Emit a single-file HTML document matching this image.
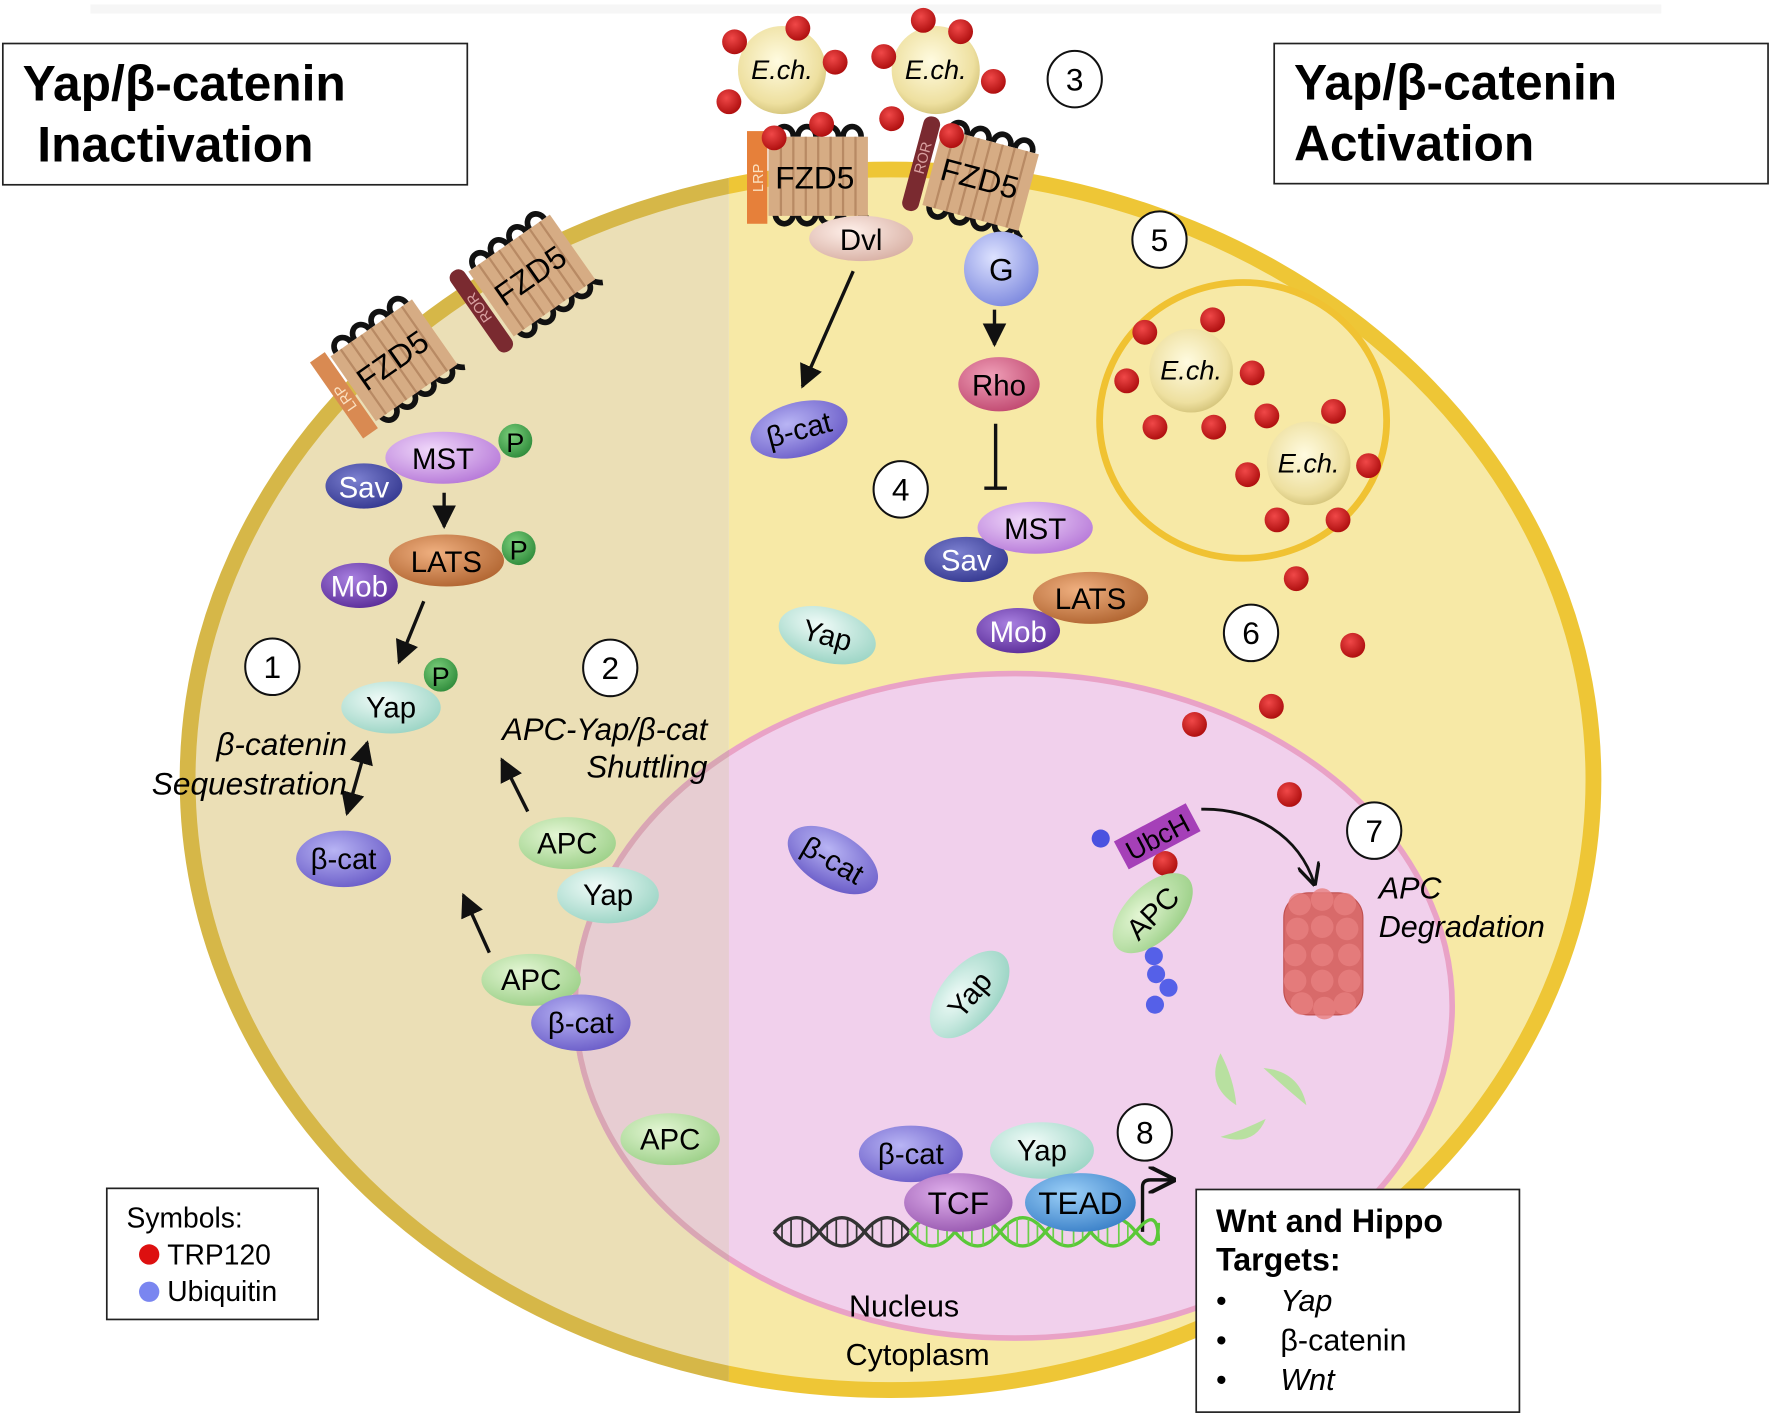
<!DOCTYPE html>
<html><head><meta charset="utf-8"><style>
html,body{margin:0;padding:0;background:#fff}
svg{display:block}
text{font-family:"Liberation Sans",sans-serif}
</style></head><body>
<svg width="1772" height="1418" viewBox="0 0 1568 1254.7" preserveAspectRatio="none" xmlns="http://www.w3.org/2000/svg">
<defs>
<radialGradient id="gv" cx="40%" cy="35%" r="70%"><stop offset="0" stop-color="#f0d8fa"/><stop offset="1" stop-color="#b678d8"/></radialGradient>
<radialGradient id="gsav" cx="40%" cy="35%" r="70%"><stop offset="0" stop-color="#7c80d0"/><stop offset="1" stop-color="#343890"/></radialGradient>
<radialGradient id="gl" cx="40%" cy="35%" r="70%"><stop offset="0" stop-color="#f0b080"/><stop offset="1" stop-color="#b06430"/></radialGradient>
<radialGradient id="gm" cx="40%" cy="35%" r="70%"><stop offset="0" stop-color="#a880e0"/><stop offset="1" stop-color="#5a2c98"/></radialGradient>
<radialGradient id="gy" cx="40%" cy="35%" r="70%"><stop offset="0" stop-color="#f0fbf8"/><stop offset="1" stop-color="#9ad4c4"/></radialGradient>
<radialGradient id="gb" cx="40%" cy="35%" r="70%"><stop offset="0" stop-color="#b8b4f4"/><stop offset="1" stop-color="#6a5cc8"/></radialGradient>
<radialGradient id="ga" cx="40%" cy="35%" r="70%"><stop offset="0" stop-color="#e4f6d4"/><stop offset="1" stop-color="#9cd088"/></radialGradient>
<radialGradient id="gp" cx="40%" cy="35%" r="70%"><stop offset="0" stop-color="#7cd07c"/><stop offset="1" stop-color="#2e8a3a"/></radialGradient>
<radialGradient id="gd" cx="40%" cy="35%" r="70%"><stop offset="0" stop-color="#fff0ea"/><stop offset="1" stop-color="#d8b0a4"/></radialGradient>
<radialGradient id="gg" cx="40%" cy="35%" r="70%"><stop offset="0" stop-color="#dde2ff"/><stop offset="1" stop-color="#7c88de"/></radialGradient>
<radialGradient id="gr" cx="40%" cy="35%" r="70%"><stop offset="0" stop-color="#f0a0b8"/><stop offset="1" stop-color="#c04870"/></radialGradient>
<radialGradient id="gt" cx="40%" cy="35%" r="70%"><stop offset="0" stop-color="#e0b0ec"/><stop offset="1" stop-color="#9858b0"/></radialGradient>
<radialGradient id="gte" cx="40%" cy="35%" r="70%"><stop offset="0" stop-color="#9cd0f8"/><stop offset="1" stop-color="#3a80c8"/></radialGradient>
<radialGradient id="ge" cx="45%" cy="40%" r="60%"><stop offset="0" stop-color="#fffbe0"/><stop offset="0.8" stop-color="#eee0a0"/><stop offset="1" stop-color="#d8c880"/></radialGradient>
<radialGradient id="gred" cx="40%" cy="35%" r="65%"><stop offset="0" stop-color="#f04848"/><stop offset="1" stop-color="#b01010"/></radialGradient>
<marker id="ar" viewBox="0 0 10 10" refX="9" refY="5" markerWidth="7" markerHeight="7" orient="auto-start-reverse"><path d="M0,0 L10,5 L0,10 z" fill="#111"/></marker>
<marker id="ao" viewBox="0 0 10 10" refX="9" refY="5" markerWidth="8" markerHeight="8" orient="auto"><path d="M0,0 L10,5 L0,10" fill="none" stroke="#111" stroke-width="1.5"/></marker>
<g id="rec">
 <g fill="none" stroke="#111" stroke-width="5">
  <path d="M-38,-34 a8,9 0 1 1 16,0 M-18,-34 a8,9 0 1 1 16,0 M2,-34 a8,9 0 1 1 16,0 M22,-34 a8,9 0 1 1 16,0"/>
  <path d="M-38,34 a8,9 0 1 0 16,0 M-18,34 a8,9 0 1 0 16,0 M2,34 a8,9 0 1 0 16,0 M22,34 a8,9 0 1 0 16,0 M40,34 q4,6 8,8"/>
 </g>
 <rect x="-44" y="-34" width="88" height="70" fill="#d6ac84"/>
 <g stroke="#b88a64" stroke-width="2"><path d="M-33,-34V36M-22,-34V36M-11,-34V36M0,-34V36M11,-34V36M22,-34V36M33,-34V36"/></g>
</g>
<g id="dot"><circle r="11" fill="url(#gred)"/></g>
</defs>

<rect x="80" y="4" width="1390" height="8" fill="#f6f6f6"/>

<clipPath id="cl"><rect x="0" y="0" width="645" height="1300"/></clipPath>
<clipPath id="cr"><rect x="645" y="0" width="1000" height="1300"/></clipPath>
<ellipse cx="788" cy="690" rx="622" ry="540" fill="#f7e9a6" stroke="#eec636" stroke-width="14" clip-path="url(#cr)"/>
<ellipse cx="788" cy="690" rx="622" ry="540" fill="#ebdfb6" stroke="#d6b748" stroke-width="14" clip-path="url(#cl)"/>

<ellipse cx="897" cy="890" rx="388" ry="294" fill="#f1d0ec" stroke="#e9a2c6" stroke-width="5"/>
<ellipse cx="897" cy="890" rx="388" ry="294" fill="#e7cdd2" stroke="#d9a6b4" stroke-width="5" clip-path="url(#cl)"/>

<ellipse cx="1100" cy="372" rx="127" ry="122" fill="#f7e9a6" stroke="#f0c232" stroke-width="6"/>

<rect x="2.5" y="38.5" width="411" height="125" fill="#fff" stroke="#222" stroke-width="1.5"/>
<text x="20" y="89" font-size="44" font-weight="bold">Yap/β-catenin</text>
<text x="33" y="143" font-size="44" font-weight="bold">Inactivation</text>
<rect x="1127.5" y="38.5" width="437" height="124" fill="#fff" stroke="#222" stroke-width="1.5"/>
<text x="1145" y="88" font-size="44" font-weight="bold">Yap/β-catenin</text>
<text x="1145" y="142" font-size="44" font-weight="bold">Activation</text>

<use href="#rec" transform="translate(724,155)"/>
<rect x="661" y="116" width="18" height="82" fill="#e6803a"/>
<text transform="translate(675,170) rotate(-90)" font-size="13" fill="#fbe0c0">LRP</text>
<text x="686" y="167" font-size="28">FZD5</text>

<g transform="translate(868,158) rotate(15)">
<use href="#rec"/>
<rect x="-62" y="-42" width="15" height="86" rx="7" fill="#7a2a30"/>
<text transform="translate(-50,10) rotate(-90)" font-size="13" fill="#d8a0a0">ROR</text>
<text x="-36" y="10" font-size="28">FZD5</text>
</g>
<g transform="translate(348,318) rotate(-35)">
<use href="#rec"/>
<rect x="-62" y="-40" width="16" height="82" fill="#d98a52"/>
<text transform="translate(-50,16) rotate(-90)" font-size="13" fill="#fbe0c0">LRP</text>
<text x="-36" y="10" font-size="28">FZD5</text>
</g>
<g transform="translate(470,243) rotate(-35)">
<use href="#rec"/>
<rect x="-62" y="-42" width="15" height="86" rx="7" fill="#7a2a30"/>
<text transform="translate(-50,12) rotate(-90)" font-size="13" fill="#d8a0a0">ROR</text>
<text x="-36" y="10" font-size="28">FZD5</text>
</g>

<circle cx="692" cy="62" r="39" fill="url(#ge)"/>
<circle cx="828" cy="62" r="39" fill="url(#ge)"/>
<g>
<use href="#dot" x="650" y="37"/><use href="#dot" x="706" y="25"/><use href="#dot" x="739" y="55"/><use href="#dot" x="645" y="90"/><use href="#dot" x="727" y="110"/><use href="#dot" x="685" y="122"/>
<use href="#dot" x="782" y="50"/><use href="#dot" x="817" y="18"/><use href="#dot" x="850" y="28"/><use href="#dot" x="879" y="72"/><use href="#dot" x="789" y="105"/><use href="#dot" x="842" y="120"/>
</g>
<text x="692" y="70" font-size="24" font-style="italic" text-anchor="middle">E.ch.</text>
<text x="828" y="70" font-size="24" font-style="italic" text-anchor="middle">E.ch.</text>

<circle cx="1054" cy="328" r="37" fill="url(#ge)"/>
<circle cx="1158" cy="410" r="37" fill="url(#ge)"/>
<use href="#dot" x="1013" y="294"/><use href="#dot" x="1073" y="283"/><use href="#dot" x="997" y="337"/><use href="#dot" x="1108" y="330"/><use href="#dot" x="1022" y="378"/><use href="#dot" x="1074" y="378"/>
<use href="#dot" x="1121" y="368"/><use href="#dot" x="1180" y="364"/><use href="#dot" x="1104" y="420"/><use href="#dot" x="1211" y="412"/><use href="#dot" x="1130" y="460"/><use href="#dot" x="1184" y="460"/>
<text x="1054" y="336" font-size="24" font-style="italic" text-anchor="middle">E.ch.</text>
<text x="1158" y="418" font-size="24" font-style="italic" text-anchor="middle">E.ch.</text>

<use href="#dot" x="1147" y="512"/><use href="#dot" x="1197" y="571"/><use href="#dot" x="1057" y="641"/><use href="#dot" x="1125" y="625"/><use href="#dot" x="1141" y="703"/><use href="#dot" x="1031" y="764"/>

<g stroke="#111" stroke-width="3" fill="none">
<line x1="393" y1="436" x2="393" y2="466" marker-end="url(#ar)"/>
<line x1="375" y1="532" x2="353" y2="586" marker-end="url(#ar)"/>
<line x1="325" y1="657" x2="307" y2="720" marker-start="url(#ar)" marker-end="url(#ar)"/>
<line x1="467" y1="718" x2="444" y2="672" marker-end="url(#ar)"/>
<line x1="433" y1="843" x2="410" y2="792" marker-end="url(#ar)"/>
<line x1="755" y1="240" x2="710" y2="342" marker-end="url(#ar)"/>
<line x1="880" y1="274" x2="880" y2="305" marker-end="url(#ar)"/>
<line x1="881" y1="375" x2="881" y2="432"/>
<line x1="871" y1="432" x2="891" y2="432"/>
<path d="M1063,716 C1110,715 1150,740 1163,782" marker-end="url(#ao)" stroke-width="2.5"/>
<path d="M1011,1090 V1050 Q1011,1044 1018,1044 H1038" marker-end="url(#ao)" stroke-width="3"/>
</g>

<ellipse cx="322" cy="430" rx="34" ry="20" fill="url(#gsav)"/><text x="322" y="440" font-size="26" fill="#fff" text-anchor="middle">Sav</text>
<ellipse cx="392" cy="405" rx="51" ry="23" fill="url(#gv)"/><text x="392" y="415" font-size="26" text-anchor="middle">MST</text>
<circle cx="456" cy="390" r="15" fill="url(#gp)"/><text x="456" y="400" font-size="24" text-anchor="middle">P</text>
<ellipse cx="318" cy="518" rx="34" ry="20" fill="url(#gm)"/><text x="318" y="528" font-size="26" fill="#fff" text-anchor="middle">Mob</text>
<ellipse cx="395" cy="496" rx="51" ry="23" fill="url(#gl)"/><text x="395" y="506" font-size="26" text-anchor="middle">LATS</text>
<circle cx="459" cy="485" r="15" fill="url(#gp)"/><text x="459" y="495" font-size="24" text-anchor="middle">P</text>
<ellipse cx="346" cy="626" rx="44" ry="23" fill="url(#gy)"/><text x="346" y="635" font-size="26" text-anchor="middle">Yap</text>
<circle cx="390" cy="597" r="15" fill="url(#gp)"/><text x="390" y="607" font-size="24" text-anchor="middle">P</text>
<ellipse cx="304" cy="760" rx="42" ry="25" fill="url(#gb)"/><text x="304" y="769" font-size="26" text-anchor="middle">β-cat</text>
<ellipse cx="502" cy="746" rx="43" ry="23" fill="url(#ga)"/><text x="502" y="755" font-size="26" text-anchor="middle">APC</text>
<ellipse cx="538" cy="792" rx="45" ry="25" fill="url(#gy)"/><text x="538" y="801" font-size="26" text-anchor="middle">Yap</text>
<ellipse cx="470" cy="867" rx="44" ry="23" fill="url(#ga)"/><text x="470" y="876" font-size="26" text-anchor="middle">APC</text>
<ellipse cx="514" cy="905" rx="44" ry="25" fill="url(#gb)"/><text x="514" y="914" font-size="26" text-anchor="middle">β-cat</text>
<ellipse cx="593" cy="1008" rx="44" ry="23" fill="url(#ga)"/><text x="593" y="1017" font-size="26" text-anchor="middle">APC</text>

<text x="307" y="668" font-size="28" font-style="italic" text-anchor="end">β-catenin</text>
<text x="307" y="703" font-size="28" font-style="italic" text-anchor="end">Sequestration</text>
<text x="626" y="655" font-size="27.5" font-style="italic" text-anchor="end">APC-Yap/β-cat</text>
<text x="626" y="688" font-size="27.5" font-style="italic" text-anchor="end">Shuttling</text>

<ellipse cx="762" cy="211" rx="46" ry="20" fill="url(#gd)"/><text x="762" y="221" font-size="26" text-anchor="middle">Dvl</text>
<circle cx="886" cy="238" r="33" fill="url(#gg)"/><text x="886" y="248" font-size="28" text-anchor="middle">G</text>
<ellipse cx="884" cy="340" rx="36" ry="24" fill="url(#gr)"/><text x="884" y="350" font-size="26" text-anchor="middle">Rho</text>
<g transform="translate(707,380) rotate(-15)"><ellipse rx="44" ry="24" fill="url(#gb)"/><text y="9" font-size="26" text-anchor="middle">β-cat</text></g>
<ellipse cx="855" cy="495" rx="37" ry="20" fill="url(#gsav)"/><text x="855" y="505" font-size="26" fill="#fff" text-anchor="middle">Sav</text>
<ellipse cx="916" cy="467" rx="51" ry="23" fill="url(#gv)"/><text x="916" y="477" font-size="26" text-anchor="middle">MST</text>
<ellipse cx="901" cy="558" rx="37" ry="20" fill="url(#gm)"/><text x="901" y="568" font-size="26" fill="#fff" text-anchor="middle">Mob</text>
<ellipse cx="965" cy="529" rx="51" ry="23" fill="url(#gl)"/><text x="965" y="539" font-size="26" text-anchor="middle">LATS</text>
<g transform="translate(732,562) rotate(15)"><ellipse rx="44" ry="24" fill="url(#gy)"/><text y="9" font-size="26" text-anchor="middle">Yap</text></g>
<g transform="translate(737,761) rotate(30)"><ellipse rx="44" ry="24" fill="url(#gb)"/><text y="9" font-size="26" text-anchor="middle">β-cat</text></g>
<g transform="translate(858,880) rotate(-50)"><ellipse rx="46" ry="25" fill="url(#gy)"/><text y="9" font-size="26" text-anchor="middle">Yap</text></g>

<g transform="translate(1024,740) rotate(-28)"><rect x="-36" y="-14" width="72" height="28" fill="#a540b8"/><text y="9" font-size="24" text-anchor="middle">UbcH</text></g>
<circle cx="974" cy="742" r="8" fill="#4a52e0"/>
<g transform="translate(1020,808) rotate(-45)"><ellipse rx="44" ry="24" fill="url(#ga)"/><text y="9" font-size="26" text-anchor="middle">APC</text></g>
<g fill="#5560e8"><circle cx="1021" cy="846" r="8"/><circle cx="1023" cy="862" r="8"/><circle cx="1034" cy="874" r="8"/><circle cx="1022" cy="889" r="8"/></g>

<rect x="1136" y="790" width="70" height="108" rx="22" fill="#d86a6a" stroke="#c05050" stroke-width="1"/>
<g fill="#e88080" opacity="0.8">
<circle cx="1150" cy="800" r="10"/><circle cx="1170" cy="796" r="10"/><circle cx="1190" cy="800" r="10"/>
<circle cx="1148" cy="822" r="10"/><circle cx="1170" cy="820" r="10"/><circle cx="1192" cy="822" r="10"/>
<circle cx="1146" cy="845" r="10"/><circle cx="1170" cy="845" r="10"/><circle cx="1194" cy="845" r="10"/>
<circle cx="1146" cy="868" r="10"/><circle cx="1170" cy="868" r="10"/><circle cx="1194" cy="868" r="10"/>
<circle cx="1152" cy="888" r="10"/><circle cx="1172" cy="892" r="10"/><circle cx="1190" cy="888" r="10"/>
</g>
<text x="1220" y="795" font-size="27" font-style="italic">APC</text>
<text x="1220" y="829" font-size="27" font-style="italic">Degradation</text>

<g fill="#b8e0a0">
<path d="M1080,932 Q1066,960 1094,978 Q1092,955 1080,932z"/>
<path d="M1118,945 Q1150,948 1156,978 Q1140,965 1118,945z"/>
<path d="M1080,1006 Q1110,1015 1120,990 Q1100,1000 1080,1006z"/>
</g>

<g fill="none" stroke-width="3">
<path d="M685,1090 q20,-25 40,0 t40,0 t40,0" stroke="#333"/>
<path d="M685,1090 q20,25 40,0 t40,0 t40,0" stroke="#333"/>
<path d="M805,1090 q20,-25 40,0 t40,0 t40,0 t40,0 t40,0 t20,-8" stroke="#5ac838"/>
<path d="M805,1090 q20,25 40,0 t40,0 t40,0 t40,0 t40,0 t20,8" stroke="#5ac838"/>
</g>
<g stroke="#333" stroke-width="1.5"><path d="M692,1083V1097M700,1078V1102M710,1078V1102M718,1083V1097M732,1083V1097M740,1078V1102M750,1078V1102M758,1083V1097M772,1083V1097M780,1078V1102M790,1078V1102M798,1083V1097"/></g>
<g stroke="#6ad048" stroke-width="1.5"><path d="M812,1083V1097M820,1078V1102M830,1078V1102M838,1083V1097M852,1083V1097M860,1078V1102M870,1078V1102M878,1083V1097M892,1083V1097M900,1078V1102M910,1078V1102M918,1083V1097M932,1083V1097M940,1078V1102M950,1078V1102M958,1083V1097M972,1083V1097M980,1078V1102M990,1078V1102M998,1083V1097"/></g>

<ellipse cx="806" cy="1021" rx="46" ry="25" fill="url(#gb)"/><text x="806" y="1030" font-size="26" text-anchor="middle">β-cat</text>
<ellipse cx="922" cy="1018" rx="46" ry="25" fill="url(#gy)"/><text x="922" y="1027" font-size="26" text-anchor="middle">Yap</text>
<ellipse cx="848" cy="1064" rx="48" ry="26" fill="url(#gt)"/><text x="848" y="1074" font-size="28" text-anchor="middle">TCF</text>
<ellipse cx="956" cy="1064" rx="49" ry="26" fill="url(#gte)"/><text x="956" y="1074" font-size="28" text-anchor="middle">TEAD</text>

<text x="800" y="1165" font-size="27" text-anchor="middle">Nucleus</text>
<text x="812" y="1208" font-size="27" text-anchor="middle">Cytoplasm</text>

<g fill="#fff" stroke="#111" stroke-width="1.8">
<ellipse cx="241" cy="590" rx="24" ry="25"/><ellipse cx="540" cy="591" rx="24" ry="25"/><ellipse cx="951" cy="70" rx="24" ry="25"/>
<ellipse cx="797" cy="433" rx="24" ry="25"/><ellipse cx="1026" cy="212" rx="24" ry="25"/><ellipse cx="1107" cy="560" rx="24" ry="25"/>
<ellipse cx="1216" cy="735" rx="24" ry="25"/><ellipse cx="1013" cy="1002" rx="24" ry="25"/>
</g>
<g font-size="28" text-anchor="middle">
<text x="241" y="600">1</text><text x="540" y="601">2</text><text x="951" y="80">3</text><text x="797" y="443">4</text>
<text x="1026" y="222">5</text><text x="1107" y="570">6</text><text x="1216" y="745">7</text><text x="1013" y="1012">8</text>
</g>

<rect x="94.5" y="1051.5" width="187" height="116" fill="#fff" stroke="#222" stroke-width="1.5"/>
<text x="112" y="1086" font-size="25">Symbols:</text>
<circle cx="132" cy="1110" r="9" fill="#dd1010"/><text x="148" y="1119" font-size="25">TRP120</text>
<circle cx="132" cy="1143" r="9" fill="#7a86f0"/><text x="148" y="1151" font-size="25">Ubiquitin</text>

<rect x="1058.5" y="1052.5" width="286" height="197" fill="#fff" stroke="#222" stroke-width="1.5"/>
<text x="1076" y="1090" font-size="28.5" font-weight="bold">Wnt and Hippo</text>
<text x="1076" y="1124" font-size="28.5" font-weight="bold">Targets:</text>
<text x="1076" y="1160" font-size="27">•</text><text x="1133" y="1160" font-size="27" font-style="italic">Yap</text>
<text x="1076" y="1195" font-size="27">•</text><text x="1133" y="1195" font-size="27">β-catenin</text>
<text x="1076" y="1230" font-size="27">•</text><text x="1133" y="1230" font-size="27" font-style="italic">Wnt</text>
</svg>
</body></html>
